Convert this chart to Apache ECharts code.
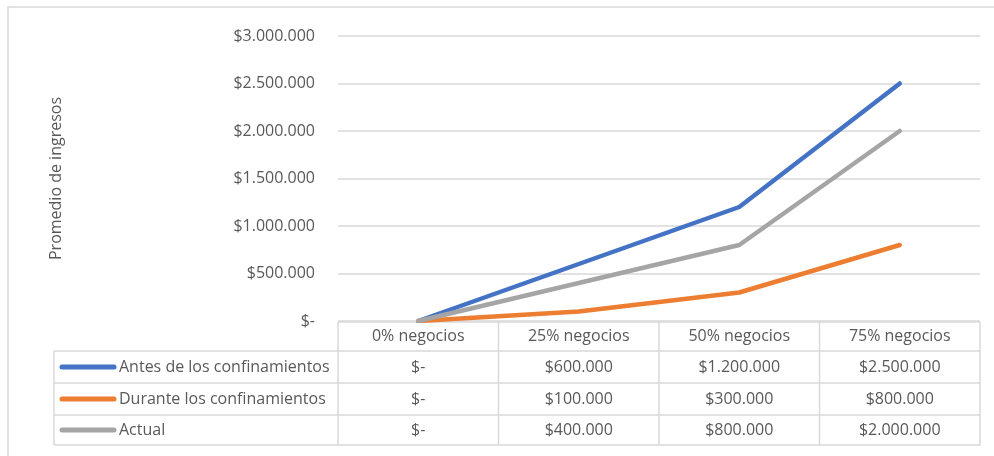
<!DOCTYPE html>
<html>
<head>
<meta charset="utf-8">
<script src="https://cdn.jsdelivr.net/npm/echarts@6/dist/echarts.min.js"></script>
<style>
html,body{margin:0;padding:0;background:#fff;}
#main{width:994px;height:456px;}
</style>
</head>
<body>
<div id="main"></div>
<script>
const categories = ['0% negocios', '25% negocios', '50% negocios', '75% negocios'];
const seriesNames = ['Antes de los confinamientos', 'Durante los confinamientos', 'Actual'];
const antes = [0, 600000, 1200000, 2500000];
const durante = [0, 100000, 300000, 800000];
const actual = [0, 400000, 800000, 2000000];
const seriesColors = ['#4472C4', '#ED7D31', '#A5A5A5'];
const yTickValues = [0, 500000, 1000000, 1500000, 2000000, 2500000, 3000000];
const axisTitle = 'Promedio de ingresos';

const allSeries = [antes, durante, actual];
const FONT = 'Open Sans';
const TXT = '#595959';
const BORDER = '#d9d9d9';

function fmt(v) {
  if (v === 0) return '$-';
  return '$' + String(Math.round(v)).replace(/\B(?=(\d{3})+(?!\d))/g, '.');
}

const chart = echarts.init(document.getElementById('main'), null, {renderer: 'canvas'});
const GRID = {left: 338, right: 14, top: 36, bottom: 135};

chart.setOption({
  animation: false,
  backgroundColor: '#fff',
  grid: GRID,
  xAxis: {
    type: 'category',
    data: categories,
    boundaryGap: true,
    axisLine: {show: false},
    axisTick: {show: false},
    axisLabel: {show: false},
    splitLine: {show: false}
  },
  yAxis: {
    type: 'value',
    min: yTickValues[0],
    max: yTickValues[yTickValues.length - 1],
    interval: yTickValues[1] - yTickValues[0],
    name: axisTitle,
    nameLocation: 'middle',
    nameGap: 274,
    nameRotate: 90,
    nameTextStyle: {color: TXT, fontFamily: FONT, fontSize: 16},
    axisLine: {show: false},
    axisTick: {show: false},
    axisLabel: {
      color: TXT, fontFamily: FONT, fontSize: 16, margin: 23,
      formatter: v => fmt(v)
    },
    splitLine: {lineStyle: {color: BORDER, width: 1.5}}
  },
  series: allSeries.map((d, i) => ({
    name: seriesNames[i],
    type: 'line',
    data: d,
    symbol: 'none',
    lineStyle: {color: seriesColors[i], width: 4.5, cap: 'round', join: 'round'},
    itemStyle: {color: seriesColors[i]}
  }))
});

// Data table below the plot, aligned with category bands
function buildTable() {
  const c0 = chart.convertToPixel({xAxisIndex: 0}, categories[0]);
  const c1 = chart.convertToPixel({xAxisIndex: 0}, categories[1]);
  const band = c1 - c0;
  const left = c0 - band / 2;
  const right = left + band * categories.length;
  const headTop = 456 - GRID.bottom + 1;
  const rowY = [headTop, headTop + 29, headTop + 61, headTop + 93, headTop + 123];
  const labelLeft = 54;
  const els = [];
  const line = (x1, y1, x2, y2) => els.push({
    type: 'line', shape: {x1, y1, x2, y2},
    style: {stroke: BORDER, lineWidth: 1.5}, silent: true
  });
  line(left, rowY[0], right, rowY[0]);
  for (let r = 1; r < rowY.length; r++) line(labelLeft, rowY[r], right, rowY[r]);
  line(labelLeft, rowY[1], labelLeft, rowY[4]);
  for (let k = 0; k <= categories.length; k++) {
    const x = left + band * k;
    line(x, rowY[0], x, rowY[4]);
  }
  categories.forEach((c, k) => {
    els.push({type: 'text', x: left + band * (k + 0.5), y: (rowY[0] + rowY[1]) / 2,
      style: {text: c, fill: TXT, font: '16px "' + FONT + '"', align: 'center', verticalAlign: 'middle'}});
  });
  allSeries.forEach((d, i) => {
    const yc = (rowY[i + 1] + rowY[i + 2]) / 2;
    els.push({type: 'line', shape: {x1: 62, y1: yc, x2: 114, y2: yc},
      style: {stroke: seriesColors[i], lineWidth: 5, lineCap: 'round'}});
    els.push({type: 'text', x: 119, y: yc,
      style: {text: seriesNames[i], fill: TXT, font: '16px "' + FONT + '"', align: 'left', verticalAlign: 'middle'}});
    d.forEach((v, k) => {
      els.push({type: 'text', x: left + band * (k + 0.5), y: yc,
        style: {text: fmt(v), fill: TXT, font: '16px "' + FONT + '"', align: 'center', verticalAlign: 'middle'}});
    });
  });
  els.push({type: 'polyline', shape: {points: [[8, 460], [8, 7], [1000, 7]]},
    style: {stroke: BORDER, lineWidth: 1.5, fill: null}, silent: true});
  chart.setOption({graphic: els});
}
buildTable();
</script>
</body>
</html>
